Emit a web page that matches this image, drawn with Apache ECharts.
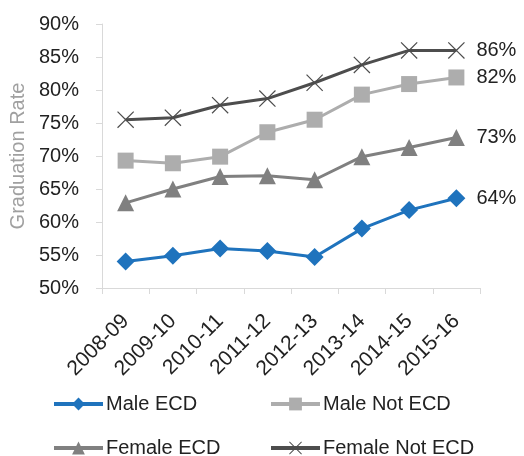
<!DOCTYPE html>
<html>
<head>
<meta charset="utf-8">
<script src="https://cdn.jsdelivr.net/npm/echarts@6/dist/echarts.min.js"></script>
<style>
  html, body { margin: 0; padding: 0; background: #fff; }
  #chart { width: 524px; height: 456px; }
</style>
</head>
<body>
<div id="chart"></div>
<script>
const years = ['2008-09', '2009-10', '2010-11', '2011-12', '2012-13', '2013-14', '2014-15', '2015-16']
const maleEcd = [54.0, 54.9, 56.0, 55.6, 54.7, 59.0, 61.8, 63.6]
const maleNotEcd = [69.3, 68.9, 69.9, 73.6, 75.5, 79.3, 80.9, 81.9]
const femaleEcd = [62.9, 65.0, 66.9, 67.0, 66.4, 69.9, 71.3, 72.8]
const femaleNotEcd = [75.5, 75.8, 77.7, 78.7, 81.1, 83.8, 86.0, 86.0]
const yTicks = { min: 50, max: 90, step: 5 }

const FONT = 'Liberation Sans'
const xMark = 'path://M0,1L1,0L10,9L19,0L20,1L11,10L20,19L19,20L10,11L1,20L0,19L9,10Z'

const chart = echarts.init(document.getElementById('chart'))

const makeSeries = (name, data, color, symbol, size) => ({
  name,
  type: 'line',
  data,
  symbol,
  symbolSize: size,
  lineStyle: { color, width: 3 },
  itemStyle: { color },
  z: 3,
  endLabel: {
    show: true,
    distance: 20,
    color: '#222',
    fontFamily: FONT,
    fontSize: 20,
    formatter: (p) => Math.round(p.value) + '%'
  }
})

const legendAt = (name, left, top) => ({
  data: [name],
  left,
  top,
  itemWidth: 49,
  itemHeight: 16,
  itemGap: 0,
  lineStyle: { width: 4 },
  textStyle: { color: '#222', fontFamily: FONT, fontSize: 20, padding: [0, 0, 0, -2] }
})

chart.setOption({
  animation: false,
  grid: { left: 102, right: 44, top: 24, bottom: 168 },
  legend: [
    legendAt('Male ECD', 47, 389),
    legendAt('Male Not ECD', 264, 389),
    legendAt('Female ECD', 47, 433),
    legendAt('Female Not ECD', 264, 433)
  ],
  xAxis: {
    type: 'category',
    data: years,
    boundaryGap: true,
    axisLine: { lineStyle: { color: '#d9d9d9', width: 1 } },
    axisTick: { show: true, interval: 0, length: 6, lineStyle: { color: '#d9d9d9' } },
    axisLabel: {
      interval: 0,
      rotate: 45,
      margin: 30,
      padding: [0, 0, 0, 0],
      color: '#222',
      fontFamily: FONT,
      fontSize: 21
    }
  },
  yAxis: {
    type: 'value',
    min: yTicks.min,
    max: yTicks.max,
    interval: yTicks.step,
    name: 'Graduation Rate',
    nameLocation: 'middle',
    nameGap: 66,
    nameTextStyle: { color: '#a0a0a0', fontFamily: FONT, fontSize: 20 },
    axisLine: { show: true, lineStyle: { color: '#d9d9d9', width: 1 } },
    axisTick: { show: true, length: 6, lineStyle: { color: '#d9d9d9' } },
    splitLine: { show: false },
    axisLabel: {
      margin: 23,
      color: '#222',
      fontFamily: FONT,
      fontSize: 20,
      formatter: '{value}%'
    }
  },
  series: [
    makeSeries('Male ECD', maleEcd, '#1f73bd', 'diamond', 18),
    makeSeries('Male Not ECD', maleNotEcd, '#adadad', 'rect', 16),
    makeSeries('Female ECD', femaleEcd, '#808080', 'triangle', 17),
    makeSeries('Female Not ECD', femaleNotEcd, '#4d4d4d', xMark, 17)
  ]
})
</script>
</body>
</html>
